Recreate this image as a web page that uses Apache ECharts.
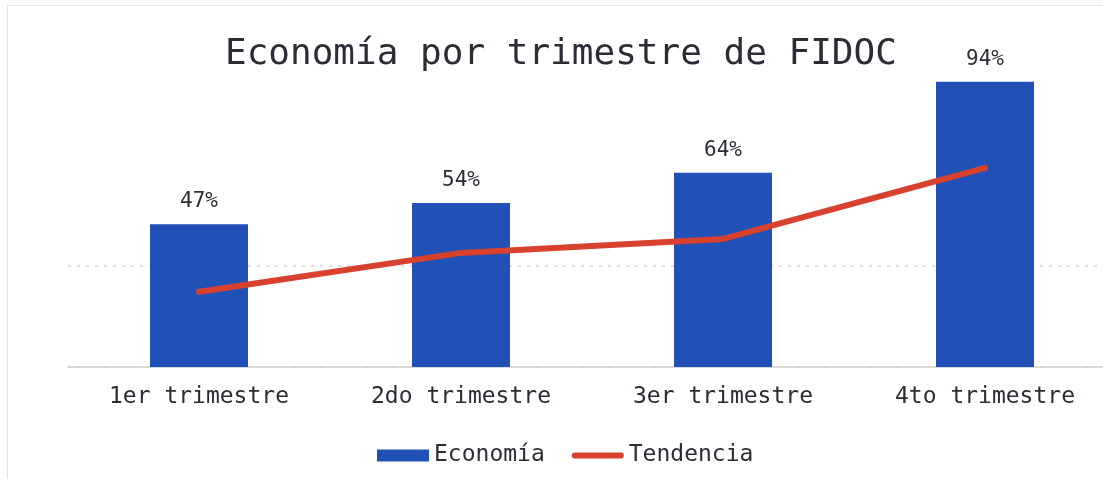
<!DOCTYPE html>
<html>
<head>
<meta charset="utf-8">
<script src="https://cdn.jsdelivr.net/npm/echarts@6/dist/echarts.min.js"></script>
<style>
  html, body { margin: 0; padding: 0; background: #fff; }
  #chart { width: 1103px; height: 479px; }
</style>
</head>
<body>
<div id="chart"></div>
<script>
// data
const categories = ["1er trimestre", "2do trimestre", "3er trimestre", "4to trimestre"];
const economia = [47, 54, 64, 94];
const tendencia = [24.8, 37.6, 42.2, 65.6];

const mono = "DejaVu Sans Mono";
const textColor = "#2b2d36";

var chartDom = document.getElementById("chart");
var myChart = echarts.init(chartDom);

var option = {
  backgroundColor: "#fff",
  animation: false,
  title: {
    text: "Economía por trimestre de FIDOC",
    left: 220,
    top: 32,
    textStyle: {
      fontFamily: mono,
      fontSize: 36,
      fontWeight: "normal",
      color: textColor,
    },
  },
  graphic: [
    {
      type: "rect",
      shape: { x: 7.5, y: 5.5, width: 1200, height: 600 },
      style: { fill: "none", stroke: "#e4e4e4", lineWidth: 1 },
      silent: true,
    },
  ],
  legend: {
    left: 372,
    top: 439,
    itemWidth: 52,
    itemHeight: 12,
    itemGap: 27,
    symbolKeepAspect: true,
    textStyle: { fontFamily: mono, fontSize: 23, color: textColor },
    data: [
      { name: "Economía", icon: "rect" },
      {
        name: "Tendencia",
        icon: "path://M3,0 H49 A3,3 0 0 1 49,6 H3 A3,3 0 0 1 3,0 Z",
      },
    ],
  },
  grid: {
    left: 68,
    width: 1048,
    top: 62,
    bottom: 112,
    outerBoundsMode: "none",
  },
  xAxis: {
    type: "category",
    data: categories,
    axisTick: { show: false },
    axisLine: { lineStyle: { color: "#cfcfcf", width: 1.5 } },
    axisLabel: {
      fontFamily: mono,
      fontSize: 23,
      color: textColor,
      margin: 19,
    },
  },
  yAxis: {
    type: "value",
    min: 0,
    max: 100.5,
    interval: 33.5,
    axisLabel: { show: false },
    axisLine: { show: false },
    axisTick: { show: false },
    splitLine: {
      lineStyle: {
        color: ["#d8d8d8", "#d8d8d8", "transparent", "transparent"],
        type: [3, 6],
        width: 1.5,
      },
    },
  },
  series: [
    {
      name: "Economía",
      type: "bar",
      data: economia,
      barWidth: 98,
      itemStyle: { color: "#2150b6" },
      label: {
        show: true,
        position: "top",
        distance: 12,
        formatter: "{c}%",
        fontFamily: mono,
        fontSize: 21,
        color: textColor,
      },
    },
    {
      name: "Tendencia",
      type: "line",
      data: tendencia,
      symbol: "none",
      lineStyle: { color: "#d9412f", width: 6, cap: "round" },
      itemStyle: { color: "#d9412f" },
    },
  ],
};

option && myChart.setOption(option);
</script>
</body>
</html>
